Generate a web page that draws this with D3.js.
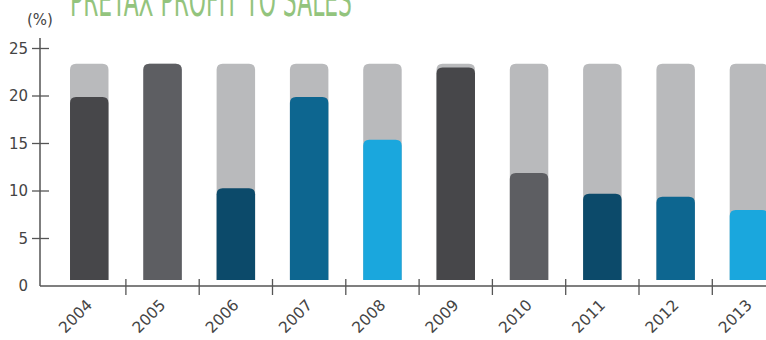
<!DOCTYPE html>
<html>
<head>
<meta charset="utf-8">
<script src="https://cdn.jsdelivr.net/npm/d3@7"></script>
<style>
  html, body { margin: 0; padding: 0; background: #fff; }
  svg { display: block; }
</style>
</head>
<body>
<svg id="chart" width="766" height="340"></svg>
<script>
// Pretax profit to sales, by year (%)
const years = ["2004", "2005", "2006", "2007", "2008", "2009", "2010", "2011", "2012", "2013"];
const profitToSales = [19.9, 23.4, 10.3, 19.9, 15.4, 23.0, 11.9, 9.7, 9.4, 8.0];
const scaleMax = [23.4, 23.4, 23.4, 23.4, 23.4, 23.4, 23.4, 23.4, 23.4, 23.4];
const barColors = ["#47474a", "#5d5e62", "#0c4a6a", "#0d6690", "#1aa7dd",
                   "#47474a", "#5d5e62", "#0c4a6a", "#0d6690", "#1aa7dd"];
const yTicks = [0, 5, 10, 15, 20, 25];

const svg = d3.select("#chart");
const axisColor = "#555";
const labelFont = "'DejaVu Sans', sans-serif";

const y = d3.scaleLinear().domain([0, 25]).range([286, 48.5]);
const x = d3.scaleBand().domain(years).range([52.6, 785.6])
  .paddingInner(0.475).paddingOuter(0.2375);

const axisX = 40;
const barLift = 6;     // bars float slightly above the baseline
const radius = 6;      // rounded top corners

function topRounded(x0, w, yTop, yBottom, r) {
  const rr = Math.min(r, (yBottom - yTop), w / 2);
  return `M${x0},${yBottom}` +
    `V${yTop + rr}` +
    `Q${x0},${yTop} ${x0 + rr},${yTop}` +
    `H${x0 + w - rr}` +
    `Q${x0 + w},${yTop} ${x0 + w},${yTop + rr}` +
    `V${yBottom}Z`;
}

// Title, tall condensed lettering running off the top edge
svg.append("text")
  .attr("x", 70).attr("y", 16)
  .attr("textLength", 282)
  .attr("lengthAdjust", "spacingAndGlyphs")
  .attr("font-family", "'DejaVu Sans Condensed', 'DejaVu Sans', sans-serif")
  .attr("font-size", 44)
  .attr("fill", "#93c47d")
  .text("PRETAX PROFIT TO SALES");

// Unit label
svg.append("text")
  .attr("x", axisX).attr("y", 25)
  .attr("text-anchor", "middle")
  .attr("font-family", labelFont)
  .attr("font-size", 15)
  .attr("fill", "#444")
  .text("(%)");

// Background (full-scale) bars
svg.append("g").selectAll("path")
  .data(years)
  .join("path")
  .attr("d", (d, i) => topRounded(x(d), x.bandwidth(), y(scaleMax[i]), y(0) - barLift, radius))
  .attr("fill", "#b9babc");

// Value bars
svg.append("g").selectAll("path")
  .data(years)
  .join("path")
  .attr("d", (d, i) => topRounded(x(d), x.bandwidth(), y(profitToSales[i]), y(0) - barLift, radius))
  .attr("fill", (d, i) => barColors[i]);

// Y axis
const yAxis = svg.append("g");
yAxis.append("line")
  .attr("x1", axisX).attr("x2", axisX)
  .attr("y1", y(0)).attr("y2", 38)
  .attr("stroke", axisColor).attr("stroke-width", 1.5);
yAxis.selectAll("line.tick")
  .data(yTicks.filter(t => t > 0))
  .join("line")
  .attr("class", "tick")
  .attr("x1", axisX - 8).attr("x2", axisX + 9)
  .attr("y1", d => y(d)).attr("y2", d => y(d))
  .attr("stroke", axisColor).attr("stroke-width", 1.3);
yAxis.selectAll("text")
  .data(yTicks)
  .join("text")
  .attr("x", axisX - 12)
  .attr("y", d => y(d))
  .attr("dy", "0.35em")
  .attr("text-anchor", "end")
  .attr("font-family", labelFont)
  .attr("font-size", 15)
  .attr("fill", "#444")
  .text(d => d);

// X axis
const xAxis = svg.append("g");
xAxis.append("line")
  .attr("x1", axisX).attr("x2", 766)
  .attr("y1", y(0)).attr("y2", y(0))
  .attr("stroke", axisColor).attr("stroke-width", 1.5);
const gap = x.step() - x.bandwidth();
xAxis.selectAll("line.tick")
  .data(years.slice(1))
  .join("line")
  .attr("class", "tick")
  .attr("x1", d => x(d) - gap / 2).attr("x2", d => x(d) - gap / 2)
  .attr("y1", y(0) - 7).attr("y2", y(0) + 9)
  .attr("stroke", axisColor).attr("stroke-width", 1.3);
xAxis.selectAll("text")
  .data(years)
  .join("text")
  .attr("transform", d => `translate(${x(d) + x.bandwidth() / 2 + 4},${y(0) + 20}) rotate(-45)`)
  .attr("text-anchor", "end")
  .attr("font-family", labelFont)
  .attr("font-size", 15.5)
  .attr("fill", "#444")
  .text(d => d);
</script>
</body>
</html>
